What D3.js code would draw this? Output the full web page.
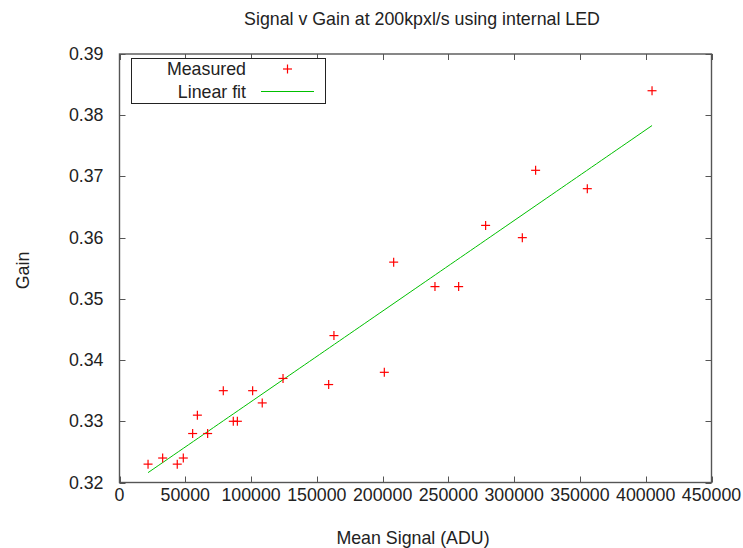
<!DOCTYPE html>
<html>
<head>
<meta charset="utf-8">
<script src="https://cdn.jsdelivr.net/npm/d3@7"></script>
<style>
  html, body { margin: 0; padding: 0; background: #fff; }
  svg { display: block; }
  text { font-family: "Liberation Sans", Arial, sans-serif; fill: #222; }
</style>
</head>
<body>
<svg id="chart" width="743" height="548"></svg>
<script>
// Measured mean signal (ADU) and gain
const signal = [21700, 32800, 43900, 48500, 55600, 59200, 67000, 78900, 86500, 89600,
                101200, 108500, 124300, 159000, 163000, 201300, 208400, 239800, 257800,
                278300, 306200, 316300, 355600, 404800];
const gain = [0.323, 0.324, 0.323, 0.324, 0.328, 0.331, 0.328, 0.335, 0.330, 0.330,
              0.335, 0.333, 0.337, 0.336, 0.344, 0.338, 0.356, 0.352, 0.352,
              0.362, 0.360, 0.371, 0.368, 0.384];

// Linear fit parameters: gain = intercept + slope * signal
const fitSlope = 1.48e-7;
const fitIntercept = 0.3184;

const xTicks = [0, 50000, 100000, 150000, 200000, 250000, 300000, 350000, 400000, 450000];
const yTicks = [0.32, 0.33, 0.34, 0.35, 0.36, 0.37, 0.38, 0.39];

const svg = d3.select("#chart");
const L = 119.5, R = 711.5, T = 54, B = 482.5;

const x = d3.scaleLinear().domain([0, 450000]).range([L, R]);
const y = d3.scaleLinear().domain([0.32, 0.39]).range([B, T]);

const fontSize = 17.8;
const borderColor = "#555";

// Ticks (inward, mirrored on opposite sides)
const tickLen = 6;
const tg = svg.append("g").attr("stroke", borderColor).attr("stroke-width", 1);
xTicks.forEach(v => {
  const px = Math.round(x(v)) + 0.5;
  tg.append("line").attr("x1", px).attr("x2", px).attr("y1", B).attr("y2", B - tickLen);
  tg.append("line").attr("x1", px).attr("x2", px).attr("y1", T).attr("y2", T + tickLen);
});
yTicks.forEach(v => {
  const py = Math.round(y(v)) + 0.5;
  tg.append("line").attr("x1", L).attr("x2", L + tickLen).attr("y1", py).attr("y2", py);
  tg.append("line").attr("x1", R).attr("x2", R - tickLen).attr("y1", py).attr("y2", py);
});

// Plot border
svg.append("rect")
  .attr("x", L).attr("y", T).attr("width", R - L).attr("height", B - T)
  .attr("fill", "none").attr("stroke", borderColor).attr("stroke-width", 1.4);

// Tick labels
svg.append("g").selectAll("text").data(xTicks).join("text")
  .attr("x", d => x(d)).attr("y", B + 18)
  .attr("text-anchor", "middle").attr("font-size", fontSize)
  .text(d => d3.format("d")(d));

svg.append("g").selectAll("text").data(yTicks).join("text")
  .attr("x", L - 16).attr("y", d => y(d) + 6)
  .attr("text-anchor", "end").attr("font-size", fontSize)
  .text(d => d3.format(".2f")(d));

// Title and axis labels
svg.append("text").attr("x", 422).attr("y", 24.5)
  .attr("text-anchor", "middle").attr("font-size", fontSize)
  .text("Signal v Gain at 200kpxl/s using internal LED");
svg.append("text").attr("x", 413).attr("y", 543.5)
  .attr("text-anchor", "middle").attr("font-size", fontSize)
  .text("Mean Signal (ADU)");
svg.append("text")
  .attr("transform", "translate(28.5,270.5) rotate(-90)")
  .attr("text-anchor", "middle").attr("font-size", fontSize)
  .text("Gain");

// Fit line across the measured range
const x0 = d3.min(signal), x1 = d3.max(signal);
const fitPts = d3.range(0, 101).map(i => {
  const s = x0 + (x1 - x0) * i / 100;
  return [s, fitIntercept + fitSlope * s];
});
svg.append("path")
  .datum(fitPts)
  .attr("fill", "none").attr("stroke", "#00c000").attr("stroke-width", 1)
  .attr("d", d3.line().x(d => x(d[0])).y(d => y(d[1])));

// Measured points as "+" markers
const half = 4.5;
const pg = svg.append("g").attr("stroke", "#ff0000").attr("stroke-width", 1.2);
signal.forEach((s, i) => {
  const px = x(s), py = y(gain[i]);
  pg.append("line").attr("x1", px - half).attr("x2", px + half).attr("y1", py).attr("y2", py);
  pg.append("line").attr("x1", px).attr("x2", px).attr("y1", py - half).attr("y2", py + half);
});

// Legend
const lg = svg.append("g");
lg.append("rect").attr("x", 131.5).attr("y", 58.5).attr("width", 194).attr("height", 45)
  .attr("fill", "#fff").attr("stroke", "#222").attr("stroke-width", 1);
lg.append("text").attr("x", 246).attr("y", 74.5).attr("text-anchor", "end")
  .attr("font-size", fontSize).text("Measured");
lg.append("text").attr("x", 246).attr("y", 98).attr("text-anchor", "end")
  .attr("font-size", fontSize).text("Linear fit");
const mx = 287.5, my = 69;
lg.append("line").attr("x1", mx - half).attr("x2", mx + half).attr("y1", my).attr("y2", my)
  .attr("stroke", "#ff0000").attr("stroke-width", 1.2);
lg.append("line").attr("x1", mx).attr("x2", mx).attr("y1", my - half).attr("y2", my + half)
  .attr("stroke", "#ff0000").attr("stroke-width", 1.2);
lg.append("line").attr("x1", 261).attr("x2", 314).attr("y1", 91.5).attr("y2", 91.5)
  .attr("stroke", "#00c000").attr("stroke-width", 1);
</script>
</body>
</html>
